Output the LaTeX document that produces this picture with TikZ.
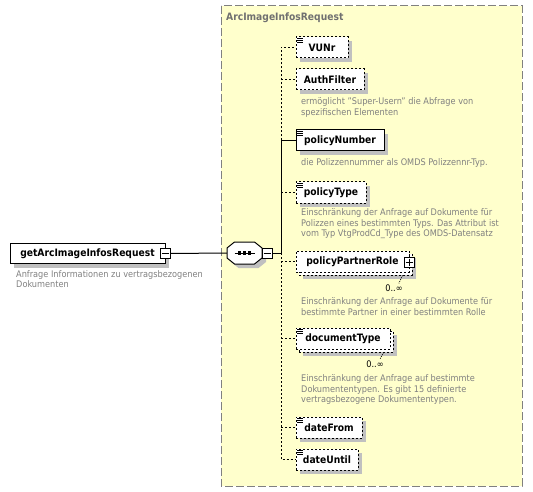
\documentclass[tikz,border=0pt]{standalone}
\usepackage{fontspec}
\setmainfont{DejaVu Sans Condensed}
\usetikzlibrary{shadows}
\definecolor{ybg}{RGB}{255,255,204}
\definecolor{descgray}{RGB}{128,128,128}
\definecolor{titlegray}{RGB}{112,112,112}
\definecolor{shgray}{RGB}{192,192,192}
\newcommand\eqicon[1]{\foreach \dy in {1.5,3.5,5.5} \draw[line width=0.7pt] ([shift={(1.5pt,-\dy pt)}]#1.north west) -- ++(5.5,0);}
\begin{document}
\begin{tikzpicture}[x=1pt,y=-1pt,
 boxbase/.style={draw=black, fill=white, line width=1pt, minimum height=21pt, inner sep=0pt, font=\fontsize{10.2}{12}\selectfont\bfseries},
 elem/.style={boxbase, general shadow={fill=shgray, shadow xshift=4pt, shadow yshift=-4pt}},
 opt/.style={elem, dash pattern=on 2pt off 2pt},
 optns/.style={boxbase, dash pattern=on 2pt off 2pt},
 desc/.style={anchor=north west, align=left, inner sep=0pt, text=descgray, font=\fontsize{9.1}{10.5}\selectfont},
 card/.style={inner sep=0pt, font=\fontsize{9.1}{10}\selectfont},
 conn/.style={line width=1pt},
 optconn/.style={conn, dash pattern=on 2pt off 2pt},
 pm/.style={draw, fill=white, minimum size=10pt, inner sep=0pt, line width=1pt}
]
\useasboundingbox (0,0) rectangle (533,492);
% group box
\draw[draw=gray, fill=ybg, dash pattern=on 8pt off 3pt, line width=1pt] (221,6) rectangle (522,486);
\node[anchor=west, inner sep=0pt, text=titlegray, font=\fontsize{10.2}{12}\selectfont\bfseries] (title) at (226,18) {ArcImageInfosRequest};

% root element
\node[elem, minimum width=155pt, minimum height=20pt] (root) at (87.5,253.5) {getArcImageInfosRequest};
\node[pm] (rootpm) at (165,253.5) {};
\draw[line width=1pt] ([xshift=2pt]rootpm.west) -- ([xshift=-2pt]rootpm.east);
\node[desc] (rootdesc) at (16,270) {Anfrage Informationen zu vertragsbezogenen\\Dokumenten};

% sequence compositor
\node[minimum width=35pt, minimum height=22pt, inner sep=0pt] (seq) at (244.5,253) {};
\begin{scope}[shift={(248.5,257)}]
\fill[shgray] (-17.5,-5) -- (-10,-11) -- (10,-11) -- (17.5,-5) -- (17.5,5) -- (10,11) -- (-10,11) -- (-17.5,5) -- cycle;
\end{scope}
\begin{scope}[shift={(244.5,253)}]
\draw[fill=white, line width=1pt] (-17.5,-5) -- (-10,-11) -- (10,-11) -- (17.5,-5) -- (17.5,5) -- (10,11) -- (-10,11) -- (-17.5,5) -- cycle;
\draw[line width=1pt] (-10,0) -- (10,0);
\foreach \dx in {-5,0,5} \fill (\dx-1.8,-1.8) rectangle (\dx+1.8,1.8);
\end{scope}
\node[pm] (seqpm) at (267,253) {};
\draw[line width=1pt] ([xshift=2pt]seqpm.west) -- ([xshift=-2pt]seqpm.east);
\coordinate (sp) at (281,253);

% children
\node[opt, minimum width=52pt] (vunr) at (322,47.5) {VUNr};
\eqicon{vunr}
\node[opt, minimum width=68pt] (auth) at (330,79.5) {AuthFilter};
\node[desc] (authdesc) at (301,97.5) {ermöglicht "Super-Usern" die Abfrage von\\spezifischen Elementen};
\node[elem, minimum width=88pt] (pn) at (340,140.5) {policyNumber};
\eqicon{pn}
\node[desc] (pndesc) at (301,158.5) {die Polizzennummer als OMDS Polizzennr-Typ.};
\node[opt, minimum width=70pt] (ptype) at (331,192.5) {policyType};
\eqicon{ptype}
\node[desc] (ptypedesc) at (301,208.5) {Einschränkung der Anfrage auf Dokumente für\\Polizzen eines bestimmten Typs. Das Attribut ist\\vom Typ VtgProdCd\_Type des OMDS-Datensatz};

\node[opt, minimum width=113pt] (pprback) at (355.5,264.5) {};
\node[optns, minimum width=113pt] (ppr) at (352.5,261.5) {policyPartnerRole\hspace{8pt}};
\node[pm] (pprpm) at (409,262) {};
\draw[line width=1pt] ([xshift=2pt]pprpm.west) -- ([xshift=-2pt]pprpm.east);
\draw[line width=1pt] ([yshift=-2pt]pprpm.north) -- ([yshift=2pt]pprpm.south);
\node[card] (pprcard) at (394,288) {0..∞};
\draw[line width=0.7pt, dash pattern=on 1pt off 1pt] ([xshift=-10pt]pprback.south east) -- ([xshift=-4pt,yshift=1pt]pprcard.north east);
\node[desc] (pprdesc) at (301,297.5) {Einschränkung der Anfrage auf Dokumente für\\bestimmte Partner in einer bestimmten Rolle};

\node[opt, minimum width=94pt] (doctback) at (346,341.5) {};
\node[optns, minimum width=94pt] (doct) at (343,338.5) {documentType};
\eqicon{doct}
\node[card] (doctcard) at (375,364) {0..∞};
\draw[line width=0.7pt, dash pattern=on 1pt off 1pt] ([xshift=-10pt]doctback.south east) -- ([xshift=-4pt,yshift=1pt]doctcard.north east);
\node[desc] (doctdesc) at (301,374.5) {Einschränkung der Anfrage auf bestimmte\\Dokumententypen. Es gibt 15 definierte\\vertragsbezogene Dokumententypen.};

\node[opt, minimum width=66pt] (dfrom) at (329,427.5) {dateFrom};
\eqicon{dfrom}
\node[opt, minimum width=62pt] (duntil) at (327,459.5) {dateUntil};
\eqicon{duntil}

% connectors
\draw[conn] (rootpm.east) -- (seq.west);
\draw[conn] (seqpm.east) -- (sp);
\draw[conn] (sp) -- (sp |- pn.west) -- (pn.west);
\draw[optconn] (sp |- pn.west) -- (sp |- vunr.west) -- (vunr.west);
\draw[optconn] (sp |- auth.west) -- (auth.west);
\draw[optconn] (sp |- ptype.west) -- (ptype.west);
\draw[optconn] (sp) -- (sp |- duntil.west) -- (duntil.west);
\draw[optconn] (sp |- ppr.west) -- (ppr.west);
\draw[optconn] (sp |- doct.west) -- (doct.west);
\draw[optconn] (sp |- dfrom.west) -- (dfrom.west);
\end{tikzpicture}
\end{document}
